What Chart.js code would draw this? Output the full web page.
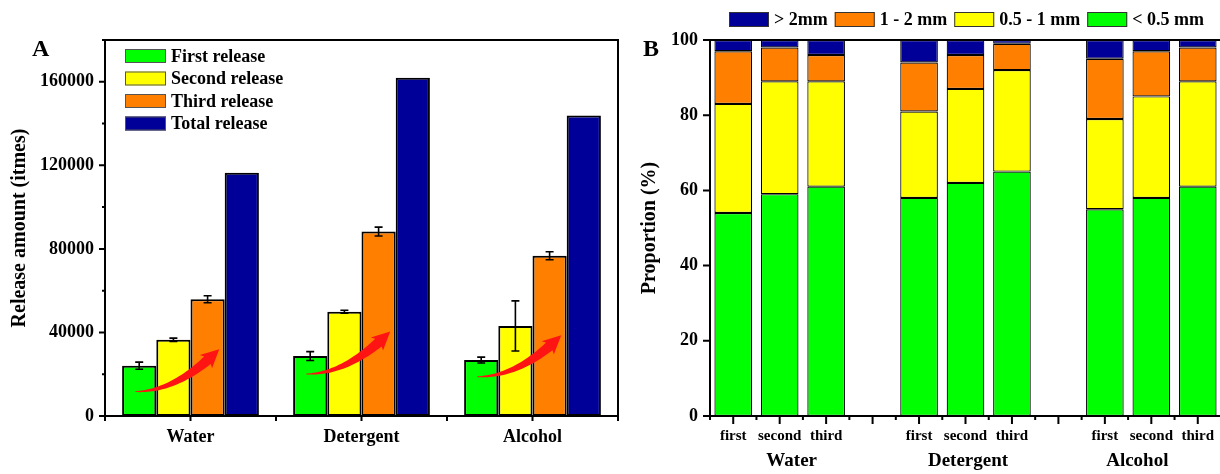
<!DOCTYPE html>
<html lang="en">
<head>
<meta charset="UTF-8">
<title>Release amount and size proportion</title>
<script src="https://cdn.jsdelivr.net/npm/chart.js"></script>
<style>
  html, body { margin: 0; padding: 0; background: #fff; overflow: hidden; }
  .page { position: relative; width: 1220px; height: 474px; overflow: hidden; }
  #boxA { position: absolute; left: 0; top: 0; width: 620px; height: 474px; }
  #boxB { position: absolute; left: 620px; top: 0; width: 610px; height: 474px; }
</style>
</head>
<body>
<div class="page">
  <div id="boxA"><canvas id="chartA" width="620" height="474"></canvas></div>
  <div id="boxB"><canvas id="chartB" width="610" height="474"></canvas></div>
</div>
<script>
// ---- panel A data ----
const media = ['Water', 'Detergent', 'Alcohol'];
const firstRelease = [24100, 28700, 26800];
const secondRelease = [36500, 49900, 43100];
const thirdRelease = [55900, 88300, 76700];
const totalRelease = [116400, 161900, 143900];
const errFirst = [1700, 2100, 1400];
const errSecond = [800, 700, 12000];
const errThird = [1700, 2100, 1900];
// red arrows: tail / tip heights in release units
const arrowTail = [11700, 20100, 18800];
const arrowTip = [31950, 40400, 38650];

// ---- panel B data (proportion %, order: first, second, third per medium) ----
const releases = ['first', 'second', 'third'];
const below05 = [54, 59, 61, 58, 62, 65, 55, 58, 61];
const from05to1 = [29, 30, 28, 23, 25, 27, 24, 27, 28];
const from1to2 = [14, 9, 7, 13, 9, 7, 16, 12, 9];
const above2 = [3, 2, 4, 6, 4, 1, 5, 3, 2];

const GREEN = '#00ff00', YELLOW = '#ffff00', ORANGE = '#ff8000', NAVY = '#000099';
const SERIF = "'Liberation Serif', 'Times New Roman', serif";

Chart.defaults.font.family = SERIF;
Chart.defaults.font.weight = 'bold';
Chart.defaults.font.size = 18;
Chart.defaults.color = '#000';

function drawArrow(ctx, x0, y0, x1, y1) {
  const cx = x1 - (y0 - y1), cy = y0;
  const pt = t => [(1 - t) * (1 - t) * x0 + 2 * (1 - t) * t * cx + t * t * x1,
                   (1 - t) * (1 - t) * y0 + 2 * (1 - t) * t * cy + t * t * y1];
  const tan = t => {
    const dx = 2 * (1 - t) * (cx - x0) + 2 * t * (x1 - cx);
    const dy = 2 * (1 - t) * (cy - y0) + 2 * t * (y1 - cy);
    const l = Math.hypot(dx, dy);
    return [dx / l, dy / l];
  };
  const headLen = 16, headHalf = 9;
  let tb = 0.8;
  for (let t = 1; t > 0; t -= 0.005) {
    const p = pt(t);
    if (Math.hypot(p[0] - x1, p[1] - y1) >= headLen) { tb = t; break; }
  }
  const up = [], lo = [], N = 30;
  for (let k = 0; k <= N; k++) {
    const t = tb * k / N, p = pt(t), d = tan(t), w = 0.4 + 4.6 * k / N;
    up.push([p[0] + d[1] * w, p[1] - d[0] * w]);
    lo.push([p[0] - d[1] * w, p[1] + d[0] * w]);
  }
  const b = pt(tb);
  const hl = Math.hypot(x1 - b[0], y1 - b[1]);
  const d = [(x1 - b[0]) / hl, (y1 - b[1]) / hl];
  ctx.save();
  ctx.beginPath();
  ctx.moveTo(up[0][0], up[0][1]);
  up.forEach(p => ctx.lineTo(p[0], p[1]));
  ctx.lineTo(b[0] + d[1] * headHalf - d[0] * 2, b[1] - d[0] * headHalf - d[1] * 2);
  ctx.lineTo(x1, y1);
  ctx.lineTo(b[0] - d[1] * headHalf - d[0] * 2, b[1] + d[0] * headHalf - d[1] * 2);
  for (let k = N; k >= 0; k--) ctx.lineTo(lo[k][0], lo[k][1]);
  ctx.closePath();
  ctx.fillStyle = '#ff1414';
  ctx.fill();
  ctx.restore();
}

// ---------- Panel A ----------
const extrasA = {
  id: 'extrasA',
  afterDatasetsDraw(chart) {
    const ctx = chart.ctx, xs = chart.scales.x, ys = chart.scales.y;
    const catW = xs.width / media.length;
    // arrows
    media.forEach((m, i) => {
      const c = xs.getPixelForValue(i);
      drawArrow(ctx, c - 0.322 * catW, ys.getPixelForValue(arrowTail[i]),
                c + 0.168 * catW, ys.getPixelForValue(arrowTip[i]));
    });
    // error bars
    const errs = [errFirst, errSecond, errThird];
    ctx.save();
    ctx.strokeStyle = '#000';
    ctx.lineWidth = 1.6;
    errs.forEach((err, d) => {
      const meta = chart.getDatasetMeta(d);
      const vals = chart.data.datasets[d].data;
      meta.data.forEach((bar, j) => {
        const yt = ys.getPixelForValue(vals[j] + err[j]);
        const yb = ys.getPixelForValue(vals[j] - err[j]);
        ctx.beginPath();
        ctx.moveTo(bar.x, yt); ctx.lineTo(bar.x, yb);
        ctx.moveTo(bar.x - 4, yt); ctx.lineTo(bar.x + 4, yt);
        ctx.moveTo(bar.x - 4, yb); ctx.lineTo(bar.x + 4, yb);
        ctx.stroke();
      });
    });
    ctx.restore();
  },
  afterDraw(chart) {
    const ctx = chart.ctx, a = chart.chartArea, xs = chart.scales.x, ys = chart.scales.y;
    ctx.save();
    ctx.strokeStyle = '#000';
    ctx.lineWidth = 2;
    ctx.strokeRect(a.left, a.top, a.right - a.left, a.bottom - a.top);
    ctx.beginPath();
    ys.ticks.forEach(t => {
      const y = ys.getPixelForValue(t.value);
      const len = t.value % 40000 === 0 ? 6 : 3;
      ctx.moveTo(a.left - len, y); ctx.lineTo(a.left, y);
    });
    for (let i = -0.5; i <= media.length - 0.5; i += 0.5) {
      const x = xs.getPixelForValue(i);
      ctx.moveTo(x, a.bottom); ctx.lineTo(x, a.bottom + 5);
    }
    ctx.stroke();
    // legend
    ctx.font = 'bold 18px ' + SERIF;
    ctx.textBaseline = 'middle';
    ctx.textAlign = 'left';
    ctx.lineWidth = 1;
    chart.data.datasets.forEach((ds, k) => {
      const yc = 56 + k * 22.5;
      ctx.fillStyle = ds.backgroundColor;
      ctx.fillRect(125, yc - 7, 41, 14);
      ctx.strokeStyle = '#555';
      ctx.strokeRect(125.5, yc - 6.5, 40, 13);
      ctx.fillStyle = '#000';
      ctx.fillText(ds.label, 171, yc + 1);
    });
    ctx.font = 'bold 24px ' + SERIF;
    ctx.textBaseline = 'alphabetic';
    ctx.fillText('A', 32, 56);
    ctx.restore();
  }
};

new Chart(document.getElementById('chartA'), {
  type: 'bar',
  data: {
    labels: media,
    datasets: [
      { label: 'First release', data: firstRelease, backgroundColor: GREEN },
      { label: 'Second release', data: secondRelease, backgroundColor: YELLOW },
      { label: 'Third release', data: thirdRelease, backgroundColor: ORANGE },
      { label: 'Total release', data: totalRelease, backgroundColor: NAVY }
    ].map(ds => Object.assign(ds, {
      borderColor: '#000', borderWidth: 2, borderSkipped: false,
      barPercentage: 1, categoryPercentage: 0.8
    }))
  },
  options: {
    responsive: false,
    animation: false,
    devicePixelRatio: 1,
    layout: { padding: { top: 40, right: 2, bottom: 0, left: 0 } },
    plugins: { legend: { display: false }, tooltip: { enabled: false } },
    scales: {
      x: {
        grid: { display: false, drawTicks: false },
        border: { display: false },
        ticks: { padding: 11, font: { size: 18 } },
        afterFit(s) { s.height = 58; }
      },
      y: {
        min: 0, max: 180000,
        grid: { display: false, drawTicks: false },
        border: { display: false },
        ticks: {
          stepSize: 20000, padding: 11, font: { size: 18 },
          callback: v => (v % 40000 === 0 ? String(v) : '')
        },
        title: {
          display: true, text: 'Release amount (itmes)',
          font: { size: 20, weight: 'bold' }, padding: { top: 8, bottom: 0 }
        },
        afterFit(s) { s.width = 105; }
      }
    }
  },
  plugins: [extrasA]
});

// ---------- Panel B ----------
function withGaps(arr) {
  const out = [];
  arr.forEach((v, k) => { if (k > 0 && k % 3 === 0) out.push(null); out.push(v); });
  return out;
}
const slotLabels = withGaps(media.flatMap(() => releases)).map(v => (v === null ? '' : v));
const groupShift = [12, 2.5, -14];

const extrasB = {
  id: 'extrasB',
  afterDraw(chart) {
    const ctx = chart.ctx, a = chart.chartArea, xs = chart.scales.x, ys = chart.scales.y;
    ctx.save();
    ctx.strokeStyle = '#000';
    ctx.lineWidth = 2;
    ctx.strokeRect(a.left, a.top, a.right - a.left, a.bottom - a.top);
    ctx.beginPath();
    ys.ticks.forEach(t => {
      const y = ys.getPixelForValue(t.value);
      ctx.moveTo(a.left - 7, y); ctx.lineTo(a.left, y);
    });
    for (let i = 0; i < slotLabels.length; i++) {
      const xc = xs.getPixelForValue(i), xb = xs.getPixelForValue(i - 0.5);
      ctx.moveTo(xc, a.bottom); ctx.lineTo(xc, a.bottom + 8);
      ctx.moveTo(xb, a.bottom); ctx.lineTo(xb, a.bottom + 4);
    }
    ctx.stroke();
    // group names under the release labels
    ctx.font = 'bold 19px ' + SERIF;
    ctx.textAlign = 'center';
    ctx.textBaseline = 'middle';
    ctx.fillStyle = '#000';
    media.forEach((m, g) => {
      ctx.fillText(m, xs.getPixelForValue(g * 4 + 1) + groupShift[g], 461);
    });
    // legend, largest size first
    ctx.font = 'bold 18px ' + SERIF;
    ctx.textAlign = 'left';
    ctx.lineWidth = 1;
    let x = 109;
    chart.data.datasets.slice().reverse().forEach(ds => {
      ctx.fillStyle = ds.backgroundColor;
      ctx.fillRect(x, 12, 40, 15);
      ctx.strokeStyle = '#333';
      ctx.strokeRect(x + 0.5, 12.5, 39, 14);
      ctx.fillStyle = '#000';
      ctx.fillText(ds.label, x + 45, 20.5);
      x += 45 + ctx.measureText(ds.label).width + 7;
    });
    ctx.font = 'bold 24px ' + SERIF;
    ctx.textBaseline = 'alphabetic';
    ctx.fillText('B', 23, 56);
    ctx.restore();
  }
};

new Chart(document.getElementById('chartB'), {
  type: 'bar',
  data: {
    labels: slotLabels,
    datasets: [
      { label: '< 0.5 mm', data: withGaps(below05), backgroundColor: GREEN },
      { label: '0.5 - 1 mm', data: withGaps(from05to1), backgroundColor: YELLOW },
      { label: '1 - 2 mm', data: withGaps(from1to2), backgroundColor: ORANGE },
      { label: '> 2mm', data: withGaps(above2), backgroundColor: NAVY }
    ].map(ds => Object.assign(ds, {
      borderColor: '#000', borderWidth: 1.2, borderSkipped: false,
      barPercentage: 0.81, categoryPercentage: 1
    }))
  },
  options: {
    responsive: false,
    animation: false,
    devicePixelRatio: 1,
    layout: { padding: { top: 40, right: 9, bottom: 0, left: 0 } },
    plugins: { legend: { display: false }, tooltip: { enabled: false } },
    scales: {
      x: {
        stacked: true,
        grid: { display: false, drawTicks: false },
        border: { display: false },
        ticks: { padding: 11, font: { size: 15 }, autoSkip: false, maxRotation: 0 },
        afterFit(s) { s.height = 58; }
      },
      y: {
        stacked: true,
        min: 0, max: 100,
        grid: { display: false, drawTicks: false },
        border: { display: false },
        ticks: { stepSize: 20, padding: 12, font: { size: 18 } },
        title: {
          display: true, text: 'Proportion (%)',
          font: { size: 20, weight: 'bold' }, padding: { top: 18, bottom: 0 }
        },
        afterFit(s) { s.width = 90; }
      }
    }
  },
  plugins: [extrasB]
});
</script>
</body>
</html>
